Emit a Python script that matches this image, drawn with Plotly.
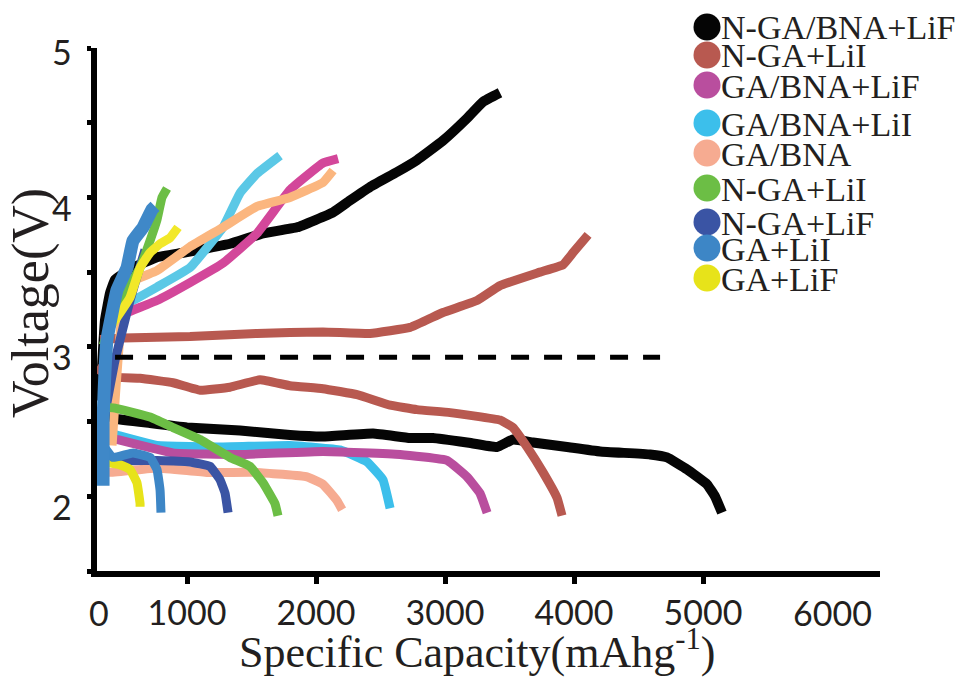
import plotly.graph_objects as go

# ---- Galvanostatic discharge/charge profiles: capacity (mAh/g) vs voltage (V) ----
ngabna_lif_dis_cap = [326, 442, 713, 1000, 1411, 1798, 2054, 2442, 2729, 2907, 3171, 3403, 3527, 3682, 3946, 4202, 4589, 4721, 4876, 5031, 5093, 5147]
ngabna_lif_dis_v = [2.56, 2.52, 2.49, 2.46, 2.44, 2.41, 2.40, 2.42, 2.39, 2.39, 2.36, 2.33, 2.38, 2.36, 2.33, 2.30, 2.28, 2.26, 2.18, 2.08, 2.00, 1.89]
ngabna_lif_chg_cap = [326, 364, 403, 442, 581, 767, 969, 1155, 1333, 1589, 1853, 2132, 2264, 2419, 2628, 2783, 2984, 3171, 3295, 3426]
ngabna_lif_chg_v = [2.64, 3.18, 3.36, 3.45, 3.53, 3.60, 3.63, 3.66, 3.69, 3.76, 3.80, 3.90, 3.98, 4.07, 4.17, 4.25, 4.38, 4.53, 4.64, 4.70]

nga_lii_dis_cap = [295, 403, 636, 891, 1101, 1333, 1566, 1798, 2054, 2318, 2574, 2783, 3039, 3426, 3527, 3636, 3760, 3868, 3907]
nga_lii_dis_v = [2.86, 2.80, 2.79, 2.76, 2.71, 2.73, 2.78, 2.74, 2.72, 2.68, 2.61, 2.58, 2.56, 2.51, 2.46, 2.33, 2.16, 1.99, 1.87]
nga_lii_chg_cap = [326, 504, 1023, 1543, 2054, 2419, 2729, 2984, 3248, 3426, 3736, 3915, 3992, 4109]
nga_lii_chg_v = [3.05, 3.06, 3.07, 3.09, 3.10, 3.09, 3.13, 3.23, 3.31, 3.41, 3.50, 3.55, 3.63, 3.75]

gabna_lif_dis_cap = [326, 457, 891, 1411, 2054, 2651, 3016, 3171, 3271, 3326]
gabna_lif_dis_v = [2.41, 2.38, 2.29, 2.28, 2.30, 2.28, 2.24, 2.13, 2.02, 1.89]
gabna_lif_chg_cap = [426, 535, 767, 1023, 1279, 1543, 1798, 2054, 2171]
gabna_lif_chg_v = [3.18, 3.23, 3.31, 3.43, 3.56, 3.76, 4.05, 4.23, 4.26]

gabna_lii_dis_cap = [326, 457, 767, 1279, 1798, 2186, 2395, 2519, 2574]
gabna_lii_dis_v = [2.44, 2.41, 2.34, 2.33, 2.34, 2.31, 2.23, 2.11, 1.92]
gabna_lii_chg_cap = [442, 581, 767, 1023, 1279, 1411, 1543, 1721]
gabna_lii_chg_v = [3.25, 3.31, 3.40, 3.53, 3.80, 4.03, 4.16, 4.28]

gabna_dis_cap = [326, 403, 767, 1155, 1543, 1930, 2054, 2163, 2202]
gabna_dis_v = [2.18, 2.16, 2.19, 2.16, 2.16, 2.13, 2.08, 1.97, 1.91]
gabna_chg_cap = [419, 442, 457, 496, 558, 767, 1023, 1279, 1543, 1798, 2054, 2132]
gabna_chg_v = [2.34, 2.64, 2.82, 3.23, 3.43, 3.51, 3.67, 3.80, 3.94, 4.00, 4.10, 4.18]

nga_lii2_dis_cap = [310, 442, 713, 891, 1101, 1333, 1488, 1589, 1682, 1705]
nga_lii2_dis_v = [2.60, 2.59, 2.53, 2.46, 2.38, 2.26, 2.20, 2.09, 1.95, 1.87]
nga_lii2_chg_cap = [349, 481, 636, 713, 767, 806, 845]
nga_lii2_chg_v = [3.01, 3.31, 3.53, 3.71, 3.85, 4.00, 4.06]

nga_lif_dis_cap = [302, 426, 767, 1023, 1178, 1256, 1295, 1318]
nga_lif_dis_v = [2.28, 2.24, 2.24, 2.23, 2.20, 2.11, 2.02, 1.89]
nga_lif_chg_cap = [326, 442, 558, 674]
nga_lif_chg_v = [2.38, 2.91, 3.31, 3.65]

ga_lif_dis_cap = [349, 481, 558, 612, 636, 636]
ga_lif_dis_v = [2.23, 2.21, 2.18, 2.09, 1.95, 1.93]
ga_lif_chg_cap = [388, 558, 636, 713, 791, 868, 930]
ga_lif_chg_v = [3.11, 3.33, 3.53, 3.63, 3.69, 3.73, 3.80]

ga_lii_dis_cap = [349, 426, 581, 713, 767, 791, 798]
ga_lii_dis_v = [2.34, 2.26, 2.29, 2.26, 2.18, 2.04, 1.89]
ga_lii_chg_cap = [349, 349, 364, 380, 457, 535, 581, 659, 729, 752]
ga_lii_chg_v = [2.07, 2.51, 2.84, 3.05, 3.38, 3.53, 3.71, 3.80, 3.92, 3.94]

# Reference voltage level
ref_cap = [442, 4667]
ref_v = [2.93, 2.93]

legend_labels = ["N-GA/BNA+LiF", "N-GA+LiI", "GA/BNA+LiF", "GA/BNA+LiI", "GA/BNA",
                 "N-GA+LiI", "N-GA+LiF", "GA+LiI", "GA+LiF"]
legend_colors = ["#050505", "#B85950", "#B94E9E", "#3CBFEB", "#F6AB91",
                 "#6CBE45", "#3A54A4", "#3D86C6", "#E7E31A"]

x_tick_vals = [1000, 2000, 3000, 4000, 5000]
x_tick_text = ["1000", "2000", "3000", "4000", "5000"]
y_tick_vals = [1.5, 2, 2.5, 3, 3.5, 4, 4.5, 5]
y_label_vals = [2, 3, 4, 5]
y_label_text = ["2", "3", "4", "5"]

X_RANGE = [302, 6372]
Y_RANGE = [1.5, 5.0]

fig = go.Figure()

def curve(x, y, color, width=9):
    fig.add_trace(go.Scatter(x=x, y=y, mode="lines", showlegend=False,
                             line=dict(color=color, width=width, shape="spline", smoothing=0.3),
                             hoverinfo="skip"))

# bottom-most to top-most
curve(ngabna_lif_dis_cap, ngabna_lif_dis_v, "#050505", 10)
curve(ngabna_lif_chg_cap, ngabna_lif_chg_v, "#050505", 10)
curve(nga_lii_dis_cap, nga_lii_dis_v, "#B85950")
curve(nga_lii_chg_cap, nga_lii_chg_v, "#B85950")
curve(gabna_lii_dis_cap, gabna_lii_dis_v, "#3CBFEB")
curve(gabna_lif_dis_cap, gabna_lif_dis_v, "#B94E9E")
curve(gabna_lii_chg_cap, gabna_lii_chg_v, "#5BC8E6")
curve(gabna_lif_chg_cap, gabna_lif_chg_v, "#D3479A")
curve(gabna_dis_cap, gabna_dis_v, "#F6AB91")
curve(gabna_chg_cap, gabna_chg_v, "#FBB67F")
curve(nga_lif_dis_cap, nga_lif_dis_v, "#3A54A4")
curve(nga_lif_chg_cap, nga_lif_chg_v, "#3A54A4")
curve(nga_lii2_dis_cap, nga_lii2_dis_v, "#6CBE45")
curve(nga_lii2_chg_cap, nga_lii2_chg_v, "#6CBE45")
curve(ga_lif_dis_cap, ga_lif_dis_v, "#E7E31A")
curve(ga_lif_chg_cap, ga_lif_chg_v, "#F2E829")
curve(ga_lii_dis_cap, ga_lii_dis_v, "#3D86C6")
curve(ga_lii_chg_cap, ga_lii_chg_v, "#3F88C8", 13)

fig.add_trace(go.Scatter(x=ref_cap, y=ref_v, mode="lines", showlegend=False,
                         line=dict(color="#000000", width=5, dash="18px,15px"),
                         hoverinfo="skip"))

# ---- layout geometry (pixels) ----
W, H = 960, 678
L, R, T, B = 97, 80, 48, 107
PW, PH = W - L - R, H - T - B

def paper_x(px):
    return (px - L) / PW

def paper_y(py):
    return (H - B - py) / PH

tick_font = dict(family="Lato, Open Sans, sans-serif", size=34, color="#231F20")
serif = "Liberation Serif, Times New Roman, serif"

annotations = []
shapes = []

# legend: coloured dots with labels
legend_rows = [27, 55, 85, 123, 153, 188, 222, 248, 278]
for label, color, py in zip(legend_labels, legend_colors, legend_rows):
    shapes.append(dict(type="circle", xref="paper", yref="paper",
                       xsizemode="pixel", ysizemode="pixel",
                       xanchor=paper_x(707), yanchor=paper_y(py),
                       x0=-13.5, x1=13.5, y0=-13.5, y1=13.5,
                       fillcolor=color, line=dict(width=0)))
    annotations.append(dict(text=label, xref="paper", yref="paper",
                            x=paper_x(719), y=paper_y(py + 1), xanchor="left", yanchor="middle",
                            showarrow=False, font=dict(family=serif, size=34, color="#231F20")))

# end labels of the capacity axis without tick marks
for val, txt in [(318, "0"), (6000, "6000")]:
    annotations.append(dict(text=txt, xref="x", yref="paper", x=val, y=paper_y(612),
                            xanchor="center", yanchor="middle", showarrow=False,
                            font=tick_font))

# voltage labels, set slightly below their tick marks
for val, txt in zip(y_label_vals, y_label_text):
    annotations.append(dict(text=txt, xref="paper", yref="y", x=paper_x(74), y=val,
                            xanchor="right", yanchor="middle", showarrow=False,
                            yshift=-3 if val == 5 else -10, font=tick_font))

# axis titles
annotations.append(dict(text="Specific Capacity(mAhg<sup>-1</sup>)", xref="paper", yref="paper",
                        x=paper_x(477), y=paper_y(649), xanchor="center", yanchor="middle",
                        showarrow=False, font=dict(family=serif, size=44, color="#231F20")))
annotations.append(dict(text="Voltage(V)", xref="paper", yref="paper", textangle=-90,
                        x=paper_x(31), y=paper_y(303), xanchor="center", yanchor="middle",
                        showarrow=False, font=dict(family=serif, size=52, color="#231F20")))

fig.update_layout(
    width=W, height=H,
    margin=dict(l=L, r=R, t=T, b=B),
    paper_bgcolor="white", plot_bgcolor="white",
    showlegend=False,
    annotations=annotations,
    shapes=shapes,
    xaxis=dict(range=X_RANGE, showgrid=False, zeroline=False,
               showline=True, linecolor="#000000", linewidth=6,
               tickmode="array", tickvals=x_tick_vals, ticktext=x_tick_text,
               ticks="outside", ticklen=7, tickwidth=5, tickcolor="#000000",
               tickfont=tick_font, ticklabelstandoff=0),
    yaxis=dict(range=Y_RANGE, showgrid=False, zeroline=False,
               showline=True, linecolor="#000000", linewidth=6,
               tickmode="array", tickvals=y_tick_vals, showticklabels=False,
               ticks="outside", ticklen=4, tickwidth=5, tickcolor="#000000"),
)

fig.write_html("out.html")
